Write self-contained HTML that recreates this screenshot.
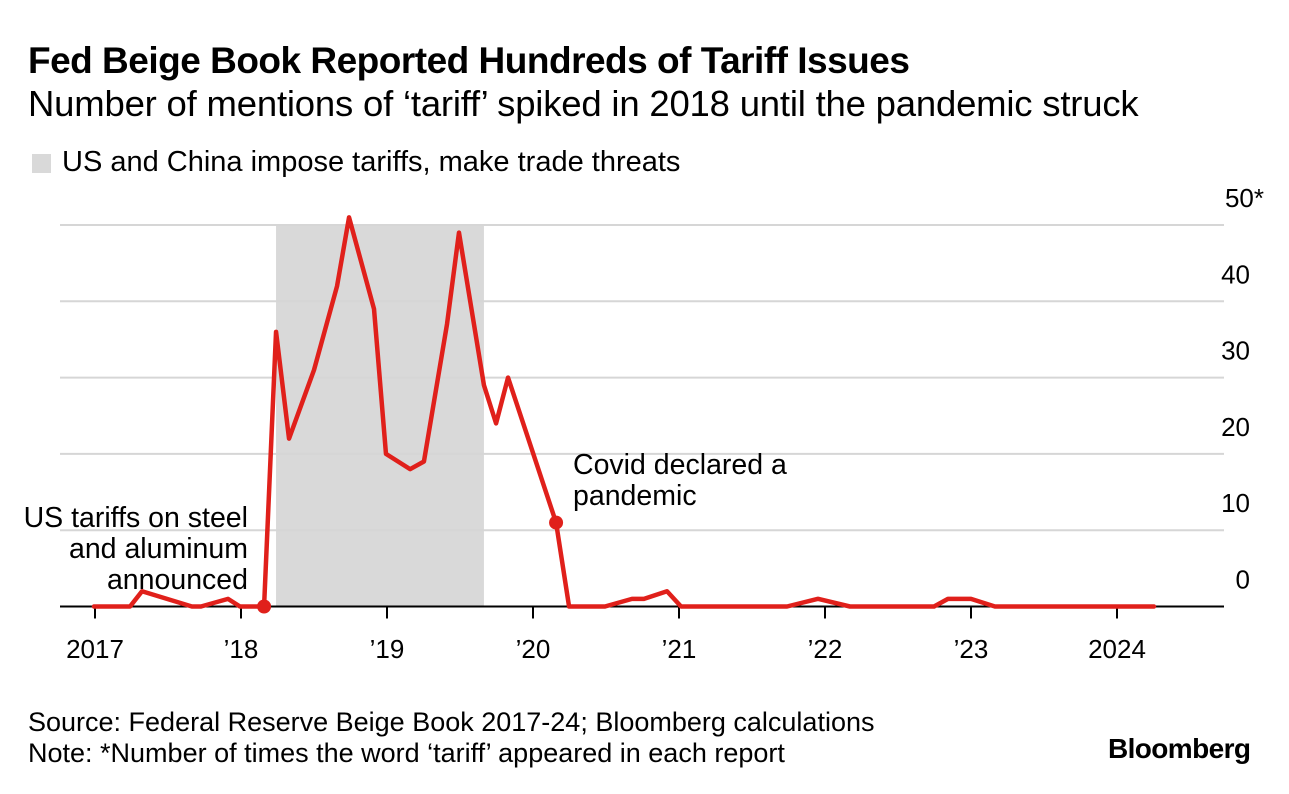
<!DOCTYPE html>
<html><head><meta charset="utf-8"><style>
body{margin:0;background:#fff;font-family:"Liberation Sans",sans-serif;}
#wrap{position:relative;width:1289px;height:794px;overflow:hidden;}
.t{position:absolute;white-space:nowrap;color:#000;}
</style></head><body>
<div id="wrap">
<div class="t" style="left:28px;top:40px;font-size:37px;font-weight:bold;letter-spacing:-0.5px">Fed Beige Book Reported Hundreds of Tariff Issues</div>
<div class="t" style="left:28px;top:83px;font-size:36.5px;letter-spacing:-0.2px">Number of mentions of ‘tariff’ spiked in 2018 until the pandemic struck</div>
<div style="position:absolute;left:32px;top:154px;width:19px;height:19px;background:#d9d9d9"></div>
<div class="t" style="left:62px;top:146px;font-size:29px;">US and China impose tariffs, make trade threats</div>
<svg id="chart" width="1289" height="794" style="position:absolute;left:0;top:0"></svg>
<div class="t" style="left:28px;top:707px;font-size:27px;line-height:31px">Source: Federal Reserve Beige Book 2017-24; Bloomberg calculations<br>Note: *Number of times the word ‘tariff’ appeared in each report</div>
<div class="t" style="left:1108px;top:733px;font-size:28px;font-weight:bold;letter-spacing:-0.6px">Bloomberg</div>
</div>
<script>
const dates=[2016.993,2017.240,2017.322,2017.664,2017.726,2017.911,2017.993,2018.158,2018.240,2018.329,2018.500,2018.658,2018.740,2018.911,2018.993,2019.158,2019.253,2019.411,2019.493,2019.664,2019.747,2019.829,2020.158,2020.247,2020.493,2020.678,2020.760,2020.918,2021.014,2021.740,2021.952,2022.171,2022.747,2022.842,2023.000,2023.164,2024.253];
const values=[0,0,2,0,0,1,0,0,36,22,31,42,51,39,20,18,19,37,49,29,24,30,11,0,0,1,1,2,0,0,1,0,0,1,1,0,0];
const yTicks=[0,10,20,30,40,50];
const yTickLabels=["0","10","20","30","40","50*"];
const xTicks=[2017,2018,2019,2020,2021,2022,2023,2024];
const xTickLabels=["2017","’18","’19","’20","’21","’22","’23","2024"];
const shadeRange=[2018.240,2019.664];
const dotDates=[2018.158,2020.158];
const dotValues=[0,11];

const NS="http://www.w3.org/2000/svg";
const svg=document.getElementById('chart');
const X=d=>95+(d-2017)*146;
const Y=v=>606.5-v*7.63;
function mk(tag,attrs){const e=document.createElementNS(NS,tag);for(const k in attrs)e.setAttribute(k,attrs[k]);svg.appendChild(e);return e;}

const sh=mk('rect',{x:X(shadeRange[0]),y:Y(50),width:X(shadeRange[1])-X(shadeRange[0]),height:Y(0)-Y(50),fill:'#d9d9d9'});



yTicks.forEach((v,i)=>{
  if(v>0){const g=mk('line',{x1:60,x2:1224,y1:Y(v),y2:Y(v),stroke:'#d6d6d6','stroke-width':2});
  
  }
  const t=mk('text',{x:1250,y:Y(v)-18,'text-anchor':'end','font-size':26,'font-family':'Liberation Sans, sans-serif',fill:'#000'});
  t.textContent=yTickLabels[i];
  if(v===50)t.setAttribute('x',1264);
  
  
});
const ax=mk('line',{x1:60,x2:1224,y1:Y(0),y2:Y(0),stroke:'#000','stroke-width':2});


xTicks.forEach((d,i)=>{
  const tk=mk('line',{x1:X(d),x2:X(d),y1:Y(0),y2:Y(0)+12,stroke:'#000','stroke-width':2});
  
  
  const t=mk('text',{x:X(d),y:658,'text-anchor':'middle','font-size':26,'font-family':'Liberation Sans, sans-serif',fill:'#000'});
  t.textContent=xTickLabels[i];
  
  
});
const pl=mk('polyline',{points:dates.map((d,i)=>X(d)+','+Y(values[i])).join(' '),fill:'none',stroke:'#e0201b','stroke-width':4.5,'stroke-linejoin':'round','stroke-linecap':'round'});


dotDates.forEach((d,i)=>{
  const c=mk('circle',{cx:X(d),cy:Y(dotValues[i]),r:7,fill:'#e0201b'});
  
  
});
function lines(arr,x,y,anchor,name){
  const t=mk('text',{x:x,y:y,'text-anchor':anchor,'font-size':28.5,'font-family':'Liberation Sans, sans-serif',fill:'#000'});
  
  
  arr.forEach((s,i)=>{const ts=document.createElementNS(NS,'tspan');ts.setAttribute('x',x);ts.setAttribute('dy',i?31:0);ts.textContent=s;t.appendChild(ts);});
}
lines(['US tariffs on steel','and aluminum','announced'],248,527,'end','steel-tariff-annotation');
lines(['Covid declared a','pandemic'],573,474,'start','covid-annotation');
</script>
</body></html>
